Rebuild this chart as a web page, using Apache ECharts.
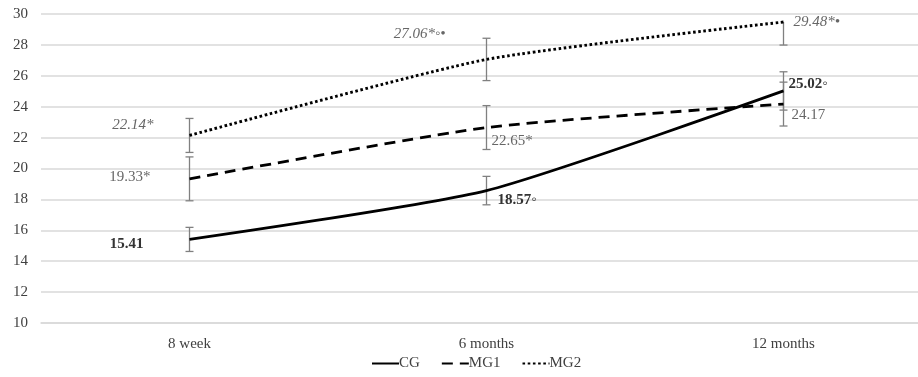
<!DOCTYPE html>
<html>
<head>
<meta charset="utf-8">
<script src="https://cdn.jsdelivr.net/npm/echarts@6/dist/echarts.min.js"></script>
<style>html,body{margin:0;padding:0;background:#fff;}#c{width:918px;height:377px;}</style>
</head>
<body>
<div id="c"></div>
<script>
var categories = ['8 week', '6 months', '12 months'];
var cgValues = [15.41, 18.57, 25.02];
var mg1Values = [19.33, 22.65, 24.17];
var mg2Values = [22.14, 27.06, 29.48];
var cgErrors = [0.78, 0.92, 1.24];
var mg1Errors = [1.42, 1.42, 1.42];
var mg2Errors = [1.10, 1.37, 1.49];
var cgLabels = ['15.41', '18.57\u25E6', '25.02\u25E6'];
var mg1Labels = ['19.33*', '22.65*', '24.17'];
var mg2Labels = ['22.14*', '27.06*\u25E6\u2022', '29.48*\u2022'];
var yTicks = [10, 12, 14, 16, 18, 20, 22, 24, 26, 28, 30];

// label placement (pixel offsets from the point) and styles
var labelOffsets = {
  CG: [[-46, 5, 'right'], [11, 10, 'left'], [5, -7, 'left']],
  MG1: [[-39, -2, 'right'], [5, 14, 'left'], [8, 11, 'left']],
  MG2: [[-36, -10, 'right'], [-41, -25, 'right'], [10, 0, 'left']]
};
var labelStyles = {
  CG: {fontWeight: 'bold', fontStyle: 'normal', fill: '#333333'},
  MG1: {fontWeight: 'normal', fontStyle: 'normal', fill: '#666666'},
  MG2: {fontWeight: 'normal', fontStyle: 'italic', fill: '#666666'}
};

var FONT = '"Liberation Serif", "Times New Roman", serif';
var Y_MAX = yTicks[yTicks.length - 1];

function errData(vals, errs) {
  return vals.map(function (v, i) { return [i, v, errs[i]]; });
}

function makeErrSeries(name, vals, errs, labels) {
  return {
    type: 'custom',
    name: name + ' err',
    clip: false,
    z: 1,
    data: errData(vals, errs),
    encode: {x: 0, y: 1},
    renderItem: function (params, api) {
      var i = api.value(0), v = api.value(1), e = api.value(2);
      var lab = labels[params.dataIndex];
      var over = v + e > Y_MAX;
      var top = over ? v : v + e;
      var p0 = api.coord([i, v]);
      var pt = api.coord([i, top]);
      var pb = api.coord([i, v - e]);
      var cw = 4;
      var st = {stroke: '#808080', lineWidth: 1.3};
      var children = [
        {type: 'line', shape: {x1: pt[0], y1: pt[1], x2: pb[0], y2: pb[1]}, style: st},
        {type: 'line', shape: {x1: pb[0] - cw, y1: pb[1], x2: pb[0] + cw, y2: pb[1]}, style: st}
      ];
      if (!over) {
        children.push({type: 'line', shape: {x1: pt[0] - cw, y1: pt[1], x2: pt[0] + cw, y2: pt[1]}, style: st});
      }
      var off = labelOffsets[name][params.dataIndex];
      var ls = labelStyles[name];
      children.push({
        type: 'text',
        z2: 10,
        style: {
          x: p0[0] + off[0], y: p0[1] + off[1],
          text: lab,
          align: off[2], verticalAlign: 'middle',
          font: ls.fontStyle + ' ' + ls.fontWeight + ' 15px ' + FONT,
          fill: ls.fill
        }
      });
      return {type: 'group', children: children};
    }
  };
}

var chart = echarts.init(document.getElementById('c'), null, {renderer: 'canvas'});
chart.setOption({
  animation: false,
  backgroundColor: '#ffffff',
  textStyle: {fontFamily: FONT},
  grid: {left: 41, right: -14, top: 14, bottom: 54, containLabel: false, outerBoundsMode: 'none'},
  legend: {
    top: 351,
    left: 366,
    itemWidth: 27,
    itemHeight: 14,
    itemGap: 21,
    data: ['CG', 'MG1', 'MG2'],
    itemStyle: {opacity: 0, borderWidth: 0},
    textStyle: {fontFamily: FONT, fontSize: 15, color: '#404040', padding: [0, 0, 0, -5]}
  },
  xAxis: {
    type: 'category',
    data: categories,
    boundaryGap: true,
    axisLine: {show: true, lineStyle: {color: '#d9d9d9', width: 1.5}},
    axisTick: {show: false},
    axisLabel: {fontFamily: FONT, fontSize: 15, color: '#404040', margin: 14}
  },
  yAxis: {
    type: 'value',
    min: yTicks[0],
    max: Y_MAX,
    interval: 2,
    axisLine: {show: false},
    axisTick: {show: false},
    splitLine: {lineStyle: {color: '#d9d9d9', width: 1.5}},
    axisLabel: {fontFamily: FONT, fontSize: 15, color: '#404040', margin: 13}
  },
  series: [
    makeErrSeries('CG', cgValues, cgErrors, cgLabels),
    makeErrSeries('MG1', mg1Values, mg1Errors, mg1Labels),
    makeErrSeries('MG2', mg2Values, mg2Errors, mg2Labels),
    {
      name: 'CG', type: 'line', data: cgValues, smooth: 0.2, z: 3,
      symbol: 'none',
      lineStyle: {color: '#000000', width: 2.8, type: 'solid'},
      itemStyle: {color: '#000000'}
    },
    {
      name: 'MG1', type: 'line', data: mg1Values, smooth: 0.2, z: 3,
      symbol: 'none',
      lineStyle: {color: '#000000', width: 2.8, type: [11, 7]},
      itemStyle: {color: '#000000'}
    },
    {
      name: 'MG2', type: 'line', data: mg2Values, smooth: 0.2, z: 3,
      symbol: 'none',
      lineStyle: {color: '#000000', width: 2.9, type: [2.6, 2.6]},
      itemStyle: {color: '#000000'}
    }
  ]
});
</script>
</body>
</html>
